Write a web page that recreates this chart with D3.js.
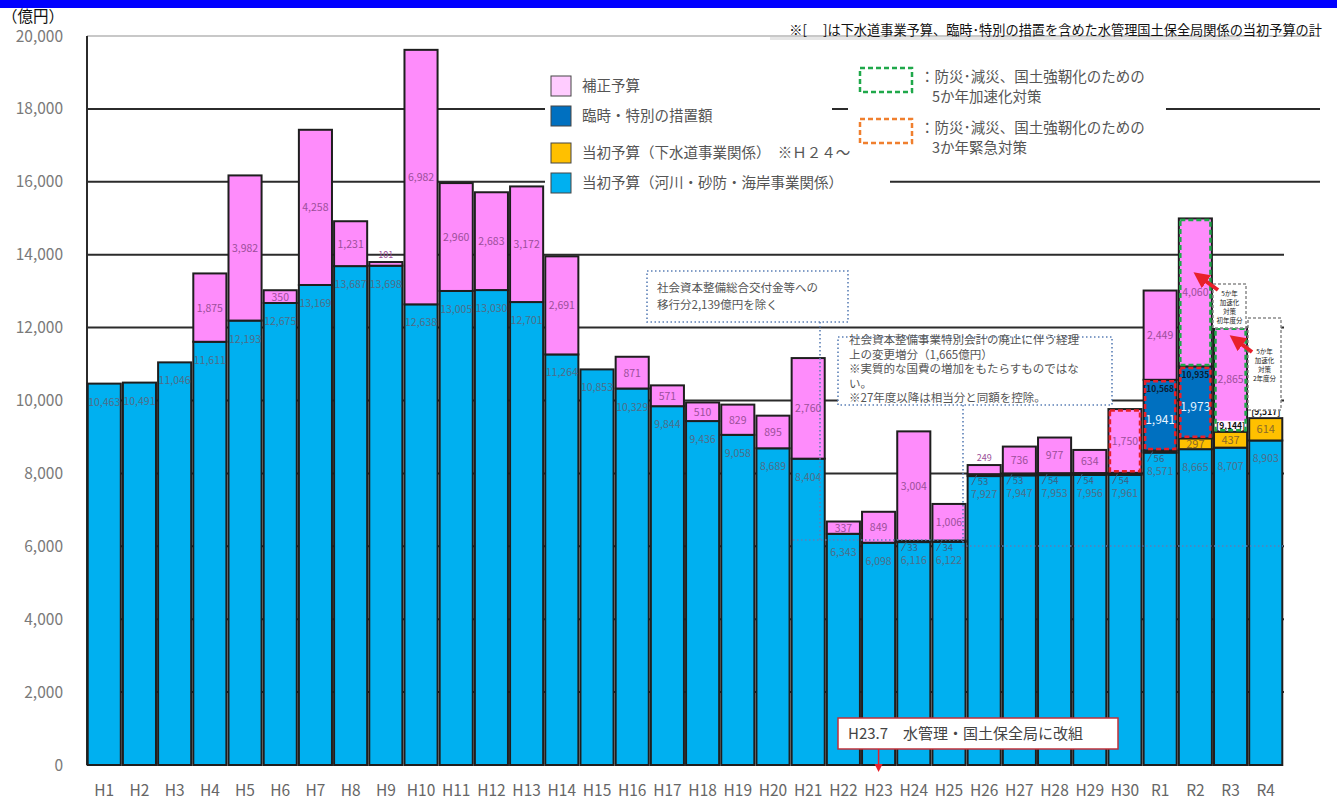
<!DOCTYPE html>
<html lang="ja">
<head>
<meta charset="utf-8">
<script src="https://cdn.jsdelivr.net/npm/d3@7/dist/d3.min.js"></script>
<style>
  html, body { margin: 0; padding: 0; background: #fff; }
  svg { display: block; font-family: "Noto Sans CJK JP", "Noto Sans", sans-serif; }
</style>
</head>
<body>
<svg id="chart" width="1337" height="799"></svg>
<script>
// 年度
const years = ["H1","H2","H3","H4","H5","H6","H7","H8","H9","H10",
  "H11","H12","H13","H14","H15","H16","H17","H18","H19","H20",
  "H21","H22","H23","H24","H25","H26","H27","H28","H29","H30",
  "R1","R2","R3","R4"];

// 当初予算（河川・砂防・海岸事業関係）
const riverInitial = [10463,10491,11046,11611,12193,12675,13169,13687,13698,12638,
  13005,13030,12701,11264,10853,10329,9844,9436,9058,8689,
  8404,6343,6098,6116,6122,7927,7947,7953,7956,7961,
  8571,8665,8707,8903];

// 当初予算（下水道事業関係）※H24～
const sewerInitial = [0,0,0,0,0,0,0,0,0,0,
  0,0,0,0,0,0,0,0,0,0,
  0,0,0,33,34,53,53,54,54,54,
  56,297,437,614];

// 臨時・特別の措置額
const specialMeasures = [0,0,0,0,0,0,0,0,0,0,
  0,0,0,0,0,0,0,0,0,0,
  0,0,0,0,0,0,0,0,0,0,
  1941,1973,0,0];

// 補正予算
const supplementary = [0,0,0,1875,3982,350,4258,1231,101,6982,
  2960,2683,3172,2691,0,871,571,510,829,895,
  2760,337,849,3004,1006,249,736,977,634,1750,
  2449,4060,2865,0];

// 3か年緊急対策・5か年加速化対策の対象部分
const emergency3 = [["H30","supp"],["R1","special"],["R2","special"]];
const acceleration5 = [["R2","supp"],["R3","supp"]];

// 当初予算の計を [ ] で示す年度
const bracketYears = ["R1","R2","R3","R4"];

// 目盛
const yTicks = [0,2000,4000,6000,8000,10000,12000,14000,16000,18000,20000];

const keys = ["river","sewer","special","supp"];
const colors = { river: "#00b0f0", sewer: "#ffc000", special: "#0070c0", supp: "#fe8cfb" };

const rows = years.map((yr, i) => ({
  year: yr,
  river: riverInitial[i],
  sewer: sewerInitial[i],
  special: specialMeasures[i],
  supp: supplementary[i]
}));

const svg = d3.select("#chart");
const W = 1337, H = 799;
const plotLeft = 87, plotRight = 1283, plotTop = 36, plotBottom = 765;

const x = d3.scaleBand().domain(years).range([plotLeft, plotRight]).paddingInner(0.06).paddingOuter(0.02);
const y = d3.scaleLinear().domain([0, 20000]).range([plotBottom, plotTop]);

svg.append("rect").attr("width", W).attr("height", H).attr("fill", "#fff");

// 目盛線
const grid = svg.append("g");
grid.selectAll("line.g").data(yTicks.filter(t => t > 0 && t < 20000)).join("line")
  .attr("x1", plotLeft).attr("x2", 1320)
  .attr("y1", d => y(d)).attr("y2", d => y(d))
  .attr("stroke", "#2b2b2b").attr("stroke-width", 2);
grid.append("line")
  .attr("x1", plotLeft).attr("x2", 1320).attr("y1", y(20000)).attr("y2", y(20000))
  .attr("stroke", "#c8c8c8").attr("stroke-width", 2);

// 凡例・注記の背景
svg.append("rect").attr("x", 545).attr("y", 62).attr("width", 287).attr("height", 104).attr("fill", "#fff");
svg.append("rect").attr("x", 545).attr("y", 166).attr("width", 345).attr("height", 30).attr("fill", "#fff");
svg.append("rect").attr("x", 848).attr("y", 62).attr("width", 318).attr("height", 98).attr("fill", "#fff");
svg.append("rect").attr("x", plotRight + 1).attr("y", 236).attr("width", W - plotRight).attr("height", 540).attr("fill", "#fff");

// 縦軸
svg.append("line").attr("x1", plotLeft).attr("x2", plotLeft)
  .attr("y1", plotTop).attr("y2", plotBottom)
  .attr("stroke", "#2b2b2b").attr("stroke-width", 2);

// 積み上げ棒
const stacked = d3.stack().keys(keys)(rows);
const bars = svg.append("g");
stacked.forEach(layer => {
  bars.selectAll(null).data(layer.filter(d => d[1] > d[0])).join("rect")
    .attr("x", d => x(d.data.year))
    .attr("width", x.bandwidth())
    .attr("y", d => y(d[1]))
    .attr("height", d => y(d[0]) - y(d[1]))
    .attr("fill", colors[layer.key])
    .attr("stroke", "#1e1e1e")
    .attr("stroke-width", 2);
});

// 値ラベル
const fmt = d3.format(",");
const labels = svg.append("g").attr("font-size", 10.5).attr("text-anchor", "middle");
const seg = (key) => stacked.find(s => s.key === key);

seg("river").forEach(d => {
  labels.append("text")
    .attr("x", x(d.data.year) + x.bandwidth() / 2)
    .attr("y", y(d[1]) + 22)
    .attr("fill", "#4f6d88")
    .text(fmt(d.data.river));
});
seg("supp").forEach(d => {
  if (d.data.supp <= 0) return;
  const h = y(d[0]) - y(d[1]);
  const cx = x(d.data.year) + x.bandwidth() / 2;
  const ty = h < 12 ? y(d[1]) - 4 : (y(d[0]) + y(d[1])) / 2 + 4;
  labels.append("text").attr("x", cx).attr("y", ty)
    .attr("fill", "#9c4f9a").attr("font-size", h < 12 ? 9 : 10.5)
    .text(fmt(d.data.supp));
});
seg("special").forEach(d => {
  if (d.data.special <= 0) return;
  labels.append("text")
    .attr("x", x(d.data.year) + x.bandwidth() / 2)
    .attr("y", (y(d[0]) + y(d[1])) / 2 + 9)
    .attr("fill", "#e8f4ff").attr("font-size", 12)
    .text(fmt(d.data.special));
});
seg("sewer").forEach(d => {
  if (d.data.sewer <= 0) return;
  const h = y(d[0]) - y(d[1]);
  const bx = x(d.data.year);
  if (h >= 9) {
    labels.append("text").attr("x", bx + x.bandwidth() / 2)
      .attr("y", (y(d[0]) + y(d[1])) / 2 + 4)
      .attr("fill", "#8a6a2a").attr("font-size", 11)
      .text(fmt(d.data.sewer));
  } else {
    // 細い部分は引出線付きで表示
    const ly = y(d[0]) + 9;
    labels.append("path")
      .attr("d", `M${bx + 4},${ly} L${bx + 9},${y(d[1]) + 1}`)
      .attr("stroke", "#3d5f80").attr("stroke-width", 1).attr("fill", "none");
    labels.append("text").attr("x", bx + 10).attr("y", ly)
      .attr("text-anchor", "start")
      .attr("fill", "#3d5f80").attr("font-size", 9.5)
      .text(fmt(d.data.sewer));
  }
});

// 当初予算の計 [ ]
bracketYears.forEach(yr => {
  const r = rows.find(d => d.year === yr);
  const total = r.river + r.sewer + r.special;
  const cx = x(yr) + x.bandwidth() / 2;
  const ty = r.special > 0 ? y(total) + 12 : y(total) - 3;
  const label = "[" + fmt(total) + "]";
  if (r.special === 0) {
    svg.append("rect").attr("x", cx - 16).attr("y", ty - 8).attr("width", 32).attr("height", 10)
      .attr("fill", "#fff").attr("opacity", 0.9);
  }
  svg.append("text").attr("x", cx).attr("y", ty)
    .attr("text-anchor", "middle").attr("font-size", 8.5).attr("font-weight", "bold")
    .attr("fill", r.special > 0 ? "#0b1d33" : "#111")
    .text(label);
});

// 対策部分の破線枠
function outline(list, color) {
  list.forEach(([yr, key]) => {
    const d = seg(key).find(s => s.data.year === yr);
    svg.append("rect")
      .attr("x", x(yr) + 1.5).attr("width", x.bandwidth() - 3)
      .attr("y", y(d[1]) + 1.5).attr("height", y(d[0]) - y(d[1]) - 3)
      .attr("fill", "none").attr("stroke", color)
      .attr("stroke-width", 2.5).attr("stroke-dasharray", "5,3");
  });
}
outline(emergency3, "#e8202a");
outline(acceleration5, "#1fa84a");

// 点線の注記枠
const noteColor = "#5b7fb6";
const dotted = svg.append("g").attr("fill", "none").attr("stroke", noteColor)
  .attr("stroke-width", 1.6).attr("stroke-dasharray", "1.5,2.5");
dotted.append("rect").attr("x", 647).attr("y", 271).attr("width", 201).attr("height", 51).attr("fill", "#fff");
dotted.append("path").attr("d", "M820,322 L820,540 M793,540 L963,540");
dotted.append("rect").attr("x", 838).attr("y", 337).attr("width", 274).attr("height", 68).attr("fill", "#fff");
dotted.append("path").attr("d", "M963,405 L963,546 L1283,546");

const noteText = svg.append("g").attr("fill", "#555").attr("font-size", 11.5);
noteText.append("text").attr("x", 657).attr("y", 292).text("社会資本整備総合交付金等への");
noteText.append("text").attr("x", 657).attr("y", 309).text("移行分2,139億円を除く");
["社会資本整備事業特別会計の廃止に伴う経理",
 "上の変更増分（1,665億円）",
 "※実質的な国費の増加をもたらすものではな",
 "い。",
 "※27年度以降は相当分と同額を控除。"].forEach((t, i) => {
  noteText.append("text").attr("x", 849).attr("y", 344 + i * 14.5).text(t);
});

// 5か年加速化対策の説明枠と矢印
const smallBoxes = [
  { x: 1213, y: 284, w: 33, h: 44, lines: ["5か年", "加速化", "対策", "初年度分"], ax1: 1218, ay1: 290, ax2: 1200, ay2: 277 },
  { x: 1248, y: 318, w: 33, h: 92, lines: ["5か年", "加速化", "対策", "2年度分"], ax1: 1252, ay1: 352, ax2: 1236, ay2: 340 }
];
smallBoxes.forEach(b => {
  svg.append("rect").attr("x", b.x).attr("y", b.y).attr("width", b.w).attr("height", b.h)
    .attr("fill", "#fff").attr("stroke", "#8a8a8a").attr("stroke-width", 1.5).attr("stroke-dasharray", "3,2");
  const ty0 = b.y + (b.h - b.lines.length * 9) / 2 + 8;
  b.lines.forEach((t, i) => {
    svg.append("text").attr("x", b.x + b.w / 2).attr("y", ty0 + i * 9)
      .attr("text-anchor", "middle").attr("font-size", 6.5).attr("fill", "#222").text(t);
  });
});
svg.append("defs").append("marker").attr("id", "arrowRed")
  .attr("viewBox", "0 0 10 10").attr("refX", 5).attr("refY", 5)
  .attr("markerWidth", 4).attr("markerHeight", 4).attr("orient", "auto")
  .append("path").attr("d", "M0,0 L10,5 L0,10 z").attr("fill", "#e8202a");
smallBoxes.forEach(b => {
  svg.append("line").attr("x1", b.ax1).attr("y1", b.ay1).attr("x2", b.ax2).attr("y2", b.ay2)
    .attr("stroke", "#e8202a").attr("stroke-width", 4).attr("marker-end", "url(#arrowRed)");
});

// 改組の注記
svg.append("rect").attr("x", 838).attr("y", 718).attr("width", 280).attr("height", 31)
  .attr("fill", "#fff").attr("stroke", "#c0303a").attr("stroke-width", 1.5);
svg.append("text").attr("x", 848).attr("y", 739).attr("font-size", 15).attr("fill", "#444")
  .text("H23.7　水管理・国土保全局に改組");
svg.append("line").attr("x1", x("H23") + x.bandwidth() / 2).attr("x2", x("H23") + x.bandwidth() / 2)
  .attr("y1", 749).attr("y2", 766).attr("stroke", "#e8202a").attr("stroke-width", 1.5);
svg.append("path")
  .attr("d", () => { const cx = x("H23") + x.bandwidth() / 2; return `M${cx - 4},764 L${cx + 4},764 L${cx},772 z`; })
  .attr("fill", "#e8202a");

// 縦軸ラベル
svg.append("g").selectAll("text").data(yTicks).join("text")
  .attr("x", 63).attr("y", d => y(d) + 5.5)
  .attr("text-anchor", "end").attr("font-size", 15.5).attr("fill", "#7a7a7a")
  .text(d => fmt(d));

// 横軸ラベル
svg.append("g").selectAll("text").data(years).join("text")
  .attr("x", d => x(d) + x.bandwidth() / 2).attr("y", 796)
  .attr("text-anchor", "middle").attr("font-size", 15.5).attr("fill", "#666")
  .text(d => d);

// 凡例
const legendItems = [
  { key: "supp", label: "補正予算", y: 76, fill: "#ffccff" },
  { key: "special", label: "臨時・特別の措置額", y: 106, fill: colors.special },
  { key: "sewer", label: "当初予算（下水道事業関係）　※Ｈ２４～", y: 143, fill: colors.sewer },
  { key: "river", label: "当初予算（河川・砂防・海岸事業関係）", y: 173, fill: colors.river }
];
const lg = svg.append("g");
legendItems.forEach(it => {
  lg.append("rect").attr("x", 551).attr("y", it.y).attr("width", 20).attr("height", 20)
    .attr("fill", it.fill).attr("stroke", "#444").attr("stroke-width", 1);
  lg.append("text").attr("x", 582).attr("y", it.y + 15).attr("font-size", 14.5).attr("fill", "#555").text(it.label);
});
const lg2 = [
  { y: 68, color: "#1fa84a", l1: "：防災･減災、国土強靭化のための", l2: "5か年加速化対策" },
  { y: 119, color: "#f07f2e", l1: "：防災･減災、国土強靭化のための", l2: "3か年緊急対策" }
];
lg2.forEach(it => {
  lg.append("rect").attr("x", 860).attr("y", it.y).attr("width", 52).attr("height", 24)
    .attr("fill", "none").attr("stroke", it.color).attr("stroke-width", 2.5).attr("stroke-dasharray", "5,3");
  lg.append("text").attr("x", 920).attr("y", it.y + 14).attr("font-size", 14.5).attr("fill", "#555").text(it.l1);
  lg.append("text").attr("x", 932).attr("y", it.y + 34).attr("font-size", 14.5).attr("fill", "#555").text(it.l2);
});

// 上部の帯・単位・注記
svg.append("rect").attr("x", 0).attr("y", 0).attr("width", W).attr("height", 8).attr("fill", "#0000ff");
svg.append("text").attr("x", 2).attr("y", 22).attr("font-size", 15.5).attr("fill", "#111").text("（億円）");
svg.append("rect").attr("x", 770).attr("y", 37).attr("width", 470).attr("height", 3).attr("fill", "#e6e6e6");
svg.append("text").attr("x", 1322).attr("y", 35).attr("text-anchor", "end")
  .attr("font-size", 13.2).attr("fill", "#111")
  .text("※[　 ]は下水道事業予算、臨時･特別の措置を含めた水管理国土保全局関係の当初予算の計");
</script>
</body>
</html>
